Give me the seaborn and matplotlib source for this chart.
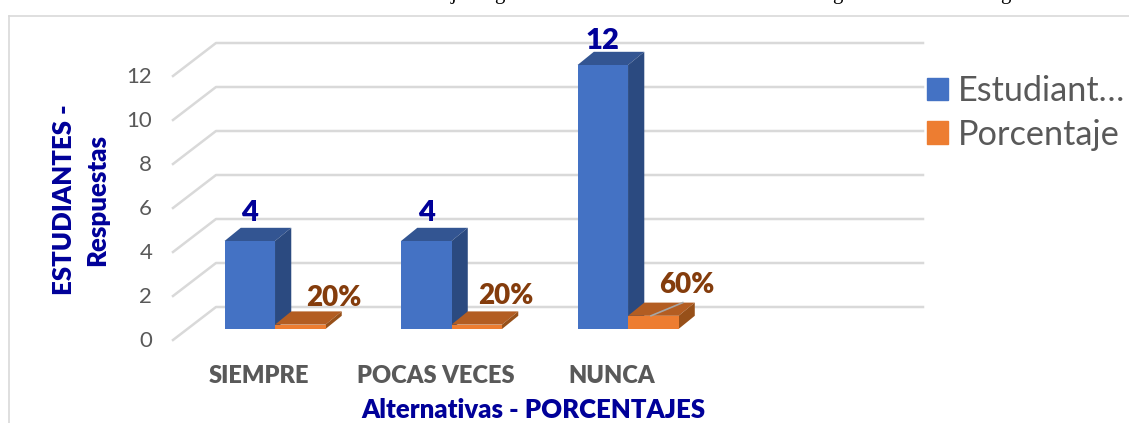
import matplotlib
matplotlib.use('Agg')
import matplotlib.pyplot as plt
import pandas as pd
import seaborn as sns
from matplotlib.lines import Line2D
from matplotlib.patches import Patch, Polygon

categories = ['SIEMPRE', 'POCAS VECES', 'NUNCA']
estudiantes = [4, 4, 12]
porcentaje = [0.2, 0.2, 0.6]
porcentaje_labels = ['20%', '20%', '60%']
y_ticks = [0, 2, 4, 6, 8, 10, 12]
series_names = ['Estudiantes', 'Porcentaje']

df = pd.DataFrame({'alternativa': categories, 'Estudiantes': estudiantes, 'Porcentaje': porcentaje})
df_long = pd.melt(df, id_vars='alternativa', var_name='serie', value_name='valor')

W, H = 1129, 423
plt.rcParams['font.family'] = ['Lato', 'DejaVu Sans']
fig = plt.figure(figsize=(W / 100, H / 100), dpi=100)

# axes covers the pseudo-3D floor, pixel box 173..923 / 43..340
ax = fig.add_axes([173 / W, 1 - 340 / H, 750 / W, 297 / H])
face = {'Estudiantes': '#4472C4', 'Porcentaje': '#ED7D31'}
top = {'Estudiantes': '#335592', 'Porcentaje': '#B35D22'}
side = {'Estudiantes': '#2B4A80', 'Porcentaje': '#975019'}

sns.barplot(data=df_long, x='alternativa', y='valor', hue='serie', palette=face, order=categories,
            hue_order=series_names, width=0.572, gap=0, legend=False, saturation=1, ax=ax)
ax.set_xlim(-0.578, 3.671)
ax.set_ylim(-0.5, 13)

# 3D look, orange sits in front of the blue side wall
dx, dy = 0.092, 0.6
for z, cont, name in zip([3, 4], ax.containers, series_names):
    for bar in cont:
        bar.set_zorder(z + 0.5)
        x0, x1, h = bar.get_x(), bar.get_x() + bar.get_width(), bar.get_height()
        ax.add_patch(Polygon([(x0, h), (x1, h), (x1 + dx, h + dy), (x0 + dx, h + dy)], fc=top[name], ec='none', zorder=z))
        ax.add_patch(Polygon([(x1, 0), (x1 + dx, dy), (x1 + dx, h + dy), (x1, h)], fc=side[name], ec='none', zorder=z))

# walls of the grid
back_x = 43 / 750 * 4.249 - 0.578
for v in y_ticks:
    ax.plot([-0.578, back_x, 3.671], [v - 0.5, v + 1, v + 1], color='#D9D9D9', lw=1.8, zorder=1, clip_on=False)

# leader line on the 60% bar
nunca = ax.containers[1][2]
ax.plot([nunca.get_x() + 0.13, nunca.get_x() + 0.31], [nunca.get_height(), nunca.get_height() + dy], color='#A6A6A6', lw=1.2, zorder=5)

bold = 'heavy'
ax.set_yticks([v - 0.45 for v in y_ticks], labels=y_ticks)
ax.set_xticks([i - 0.09 for i in range(len(categories))], labels=categories)
ax.tick_params(axis='y', length=0, pad=15, labelsize=16, labelcolor='#595959')
ax.tick_params(axis='x', length=0, pad=18, labelsize=17, labelcolor='#595959')
for t in ax.get_xticklabels():
    t.set_fontweight(bold)
ax.set_xlabel('')
ax.set_ylabel('')
sns.despine(ax=ax, left=True, bottom=True)
ax.patch.set_alpha(0)

# value labels
est_off = [(0, 10.5), (0, 10.5), (0, 8)]
for bar, v, off in zip(ax.containers[0], estudiantes, est_off):
    ax.annotate(str(v), (bar.get_x() + bar.get_width() / 2, v), textcoords='offset points', xytext=off,
                ha='center', va='bottom', fontsize=21, fontweight=bold, color='#000099', zorder=6)
pct_off = [(6, 9.5), (3, 11), (6, 13)]
for bar, lab, off in zip(ax.containers[1], porcentaje_labels, pct_off):
    ax.annotate(lab, (bar.get_x() + bar.get_width(), bar.get_height()), textcoords='offset points', xytext=off,
                ha='center', va='bottom', fontsize=20, fontweight=bold, color='#843C0C', zorder=6)

fig.text(81 / W, 1 - 200 / H, 'ESTUDIANTES -\nRespuestas', rotation=90, ha='center', va='center',
         fontsize=18.5, fontweight=bold, color='#000099', linespacing=1.45)
fig.text(533 / W, 1 - 410 / H, 'Alternativas - PORCENTAJES', ha='center', va='center',
         fontsize=18.5, fontweight=bold, color='#000099')

handles = [Patch(color=face[n], label=l) for n, l in zip(series_names, ['Estudiant…', 'Porcentaje'])]
fig.legend(handles=handles, loc='center left', bbox_to_anchor=(927 / W, 1 - 113 / H), frameon=False, fontsize=24.7,
           labelcolor='#595959', handlelength=0.62, handleheight=0.62, handletextpad=0.29, labelspacing=0.33,
           borderpad=0, borderaxespad=0)

# chart frame
frame = dict(color='#D9D9D9', lw=1.2, transform=fig.transFigure)
fig.add_artist(Line2D([9 / W, 9 / W], [0, 1 - 16 / H], **frame))
fig.add_artist(Line2D([9 / W, 1], [1 - 16 / H, 1 - 16 / H], **frame))

# descenders of the caption line cut off at the top edge
for px, ch in zip([454, 499, 837, 1005], 'jggg'):
    fig.text(px / W, 1 + 1 / H, ch, ha='center', va='baseline', fontsize=15, family='Liberation Serif', color='black')

plt.savefig('out.png', dpi=100)
